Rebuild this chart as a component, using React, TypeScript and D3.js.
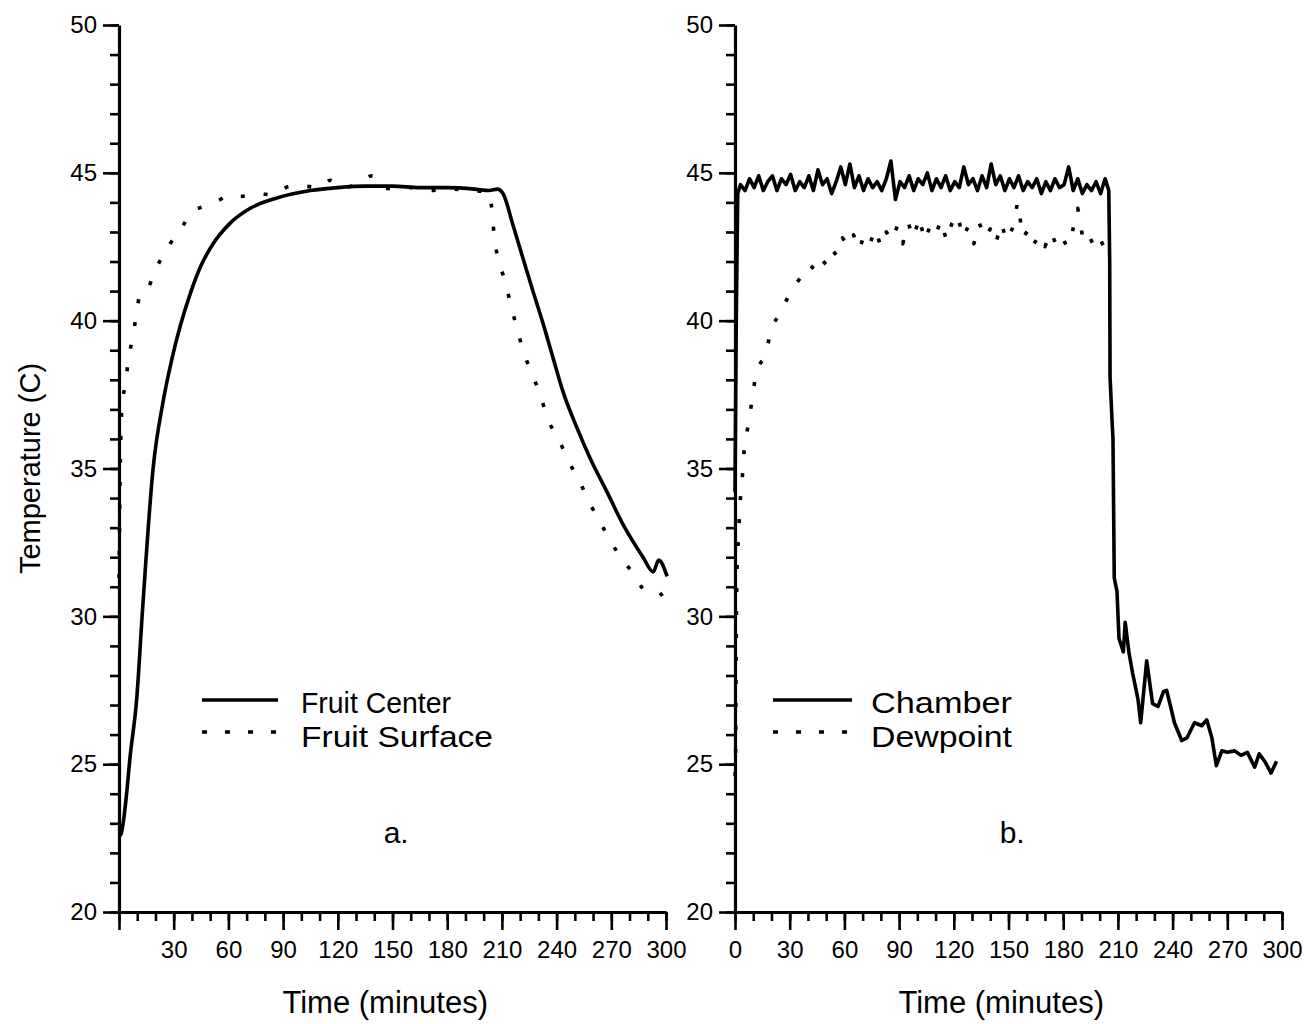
import React, { useRef, useEffect } from 'react';
import * as d3 from 'd3';

// panel a: fruit temperatures
const centerTime = [0, 0.8, 2, 4, 6, 9.7, 13, 18.7, 24, 29, 33.5, 39, 44.5, 51.6, 61, 72, 86.6, 105, 120, 135, 150, 165, 180, 195, 203, 207.5, 210.6, 216, 221.6, 227, 232.6, 238, 243.5, 251, 258, 267.7, 276.5, 287.4, 293, 296, 300.6];
const centerTemp = [22.6, 22.6, 22.9, 23.9, 25.2, 27.2, 30.3, 35.0, 37.2, 38.7, 39.8, 40.9, 41.8, 42.6, 43.3, 43.8, 44.15, 44.4, 44.5, 44.55, 44.55, 44.5, 44.5, 44.45, 44.4, 44.45, 44.3, 43.25, 42.1, 41.0, 39.9, 38.75, 37.6, 36.4, 35.4, 34.2, 33.1, 32.0, 31.5, 31.9, 31.35];

const surfaceTime = [0, 0.5, 1.2, 2, 3.4, 5, 7, 9.3, 11.5, 13.5, 16, 18, 20.7, 24, 28, 34.5, 40, 46, 54, 61, 66, 77, 84, 94, 101, 110, 116, 122, 130, 139, 145, 152, 160, 170, 182, 193, 202.5, 204.6, 205.7, 207.9, 211.7, 215, 218, 221.6, 226.5, 231, 235, 241, 247, 252.3, 258.4, 265.5, 273, 281.4, 289.6, 295, 299];
const surfaceTemp = [31.3, 34.2, 36.6, 37.3, 37.8, 38.6, 39.3, 40.1, 40.9, 41.0, 41.1, 41.4, 41.8, 42.2, 42.6, 43.15, 43.7, 43.85, 44.05, 44.25, 44.2, 44.3, 44.25, 44.55, 44.55, 44.5, 44.75, 44.5, 44.6, 44.9, 44.5, 44.45, 44.5, 44.4, 44.45, 44.4, 44.35, 43.7, 42.9, 42.1, 41.35, 40.5, 39.8, 39.0, 38.2, 37.5, 36.7, 36.0, 35.2, 34.6, 33.8, 33.0, 32.2, 31.5, 30.85, 30.85, 30.6];

// panel b: chamber air and dewpoint
const chamberTime = [0, 0.7, 1.5,
  3, 5.5, 8, 10.5, 13, 15.5, 18, 20.5, 23, 25.5, 28, 30.5, 33, 35.5, 38, 40.5, 43, 45.5, 48, 50.5, 53, 55.5, 58, 60.5,
  63, 65.5, 68, 70.5, 73, 75.5, 78, 80.5, 83, 85.5, 88, 90.5, 93, 95.5, 98, 100.5, 103, 105.5, 108, 110.5, 113, 115.5,
  118, 120.5, 123, 125.5, 128, 130.5, 133, 135.5, 138, 140.5, 143, 145.5, 148, 150.5, 153, 155.5, 158, 160.5, 163, 165.5,
  168, 170.5, 173, 175.5, 178, 180.5, 183, 185.5, 188, 190.5, 193, 195.5, 198, 200.5, 203,
  205, 205.5, 205.7, 206.8, 207.3, 208, 208.8, 209.5, 210.6, 213, 214, 216, 218, 221, 222.5, 225.8, 229, 232, 235, 236.7,
  239.5, 241, 245, 248, 252, 256, 258.7, 261.5, 264, 267, 270, 274, 277.5, 281, 285, 287.5, 290.5, 294, 297];
const chamberTemp = [34.2, 40.0, 44.3,
  44.6, 44.4, 44.8, 44.5, 44.9, 44.4, 44.7, 44.9, 44.4, 44.8, 44.6, 44.95, 44.4, 44.7, 44.5, 44.9, 44.4, 45.1, 44.6, 44.8, 44.3, 44.7, 45.2, 44.6,
  45.3, 44.5, 44.9, 44.4, 44.8, 44.5, 44.7, 44.4, 44.8, 45.4, 44.1, 44.7, 44.5, 44.9, 44.4, 44.8, 44.6, 45.0, 44.4, 44.8, 44.5, 44.9,
  44.4, 44.7, 44.5, 45.2, 44.6, 44.8, 44.4, 44.9, 44.5, 45.3, 44.6, 44.9, 44.4, 44.8, 44.5, 44.9, 44.4, 44.7, 44.5, 44.8,
  44.3, 44.7, 44.4, 44.8, 44.5, 44.6, 45.2, 44.4, 44.8, 44.3, 44.6, 44.4, 44.7, 44.3, 44.8,
  44.4, 42.0, 38.1, 36.6, 36.0, 31.3, 31.05, 30.85, 29.25, 28.8, 29.8, 28.8, 28.1, 27.2, 26.4, 28.5, 27.05, 26.95, 27.45, 27.5,
  26.8, 26.4, 25.8, 25.9, 26.4, 26.3, 26.5, 25.9, 24.95, 25.45, 25.4, 25.45, 25.3, 25.4, 24.9, 25.35, 25.1, 24.7, 25.1];

const dewTime = [0, 0.3, 0.6, 1, 1.6, 2.2, 2.7, 3.9, 5, 7.5, 9.9, 11.5, 14.3, 16, 18, 20.8, 24.7, 27.4, 30, 34, 38, 41,
  44, 47, 50, 53, 56, 59, 62, 65, 68, 71, 74, 77, 80, 83, 86, 89, 92, 95, 98, 101, 104, 107, 110, 113, 116, 119, 122,
  125, 128, 131, 134, 137, 140, 143, 146, 149, 152, 155, 158, 161, 164, 167, 170, 173, 176, 179, 182, 185, 188, 191,
  194, 197, 200, 203, 205];
const dewTemp = [24.6, 25.0, 28.5, 31.5, 32.3, 33.1, 33.8, 34.6, 35.6, 36.6, 37.5, 38.3, 38.6, 38.7, 39.2, 39.9, 40.2, 40.6, 40.9, 41.3, 41.6, 41.9,
  41.7, 42.1, 41.9, 42.4, 42.2, 42.8, 42.5, 42.9, 42.4, 42.9, 42.6, 43.1, 42.5, 43.0, 42.7, 43.2, 42.6, 43.3, 42.8, 43.5, 42.7, 43.2, 42.9, 43.4, 42.7, 43.3, 43.6,
  42.8, 43.2, 42.6, 43.3, 42.8, 43.1, 42.6, 43.3, 42.7, 43.1, 44.0, 42.8, 43.1, 42.6, 42.9, 42.5, 43.0, 42.6, 42.9, 42.5, 43.0, 43.8, 42.7,
  42.9, 42.5, 42.8, 42.4, 42.7];

const majorY = [20, 25, 30, 35, 40, 45, 50];
const majorX = [0, 30, 60, 90, 120, 150, 180, 210, 240, 270, 300];

const FONT = '"Liberation Sans", Arial, Helvetica, sans-serif';

const zip = (ts: number[], vs: number[]) => ts.map((t, i) => [t, vs[i]] as [number, number]);

const App = () => {
  const svgRef = useRef<SVGSVGElement>(null);

  useEffect(() => {
    const svg = d3.select(svgRef.current);
    svg.selectAll('*').remove();

    const y = d3.scaleLinear().domain([20, 50]).range([912, 25]);

    const panels = [
      {
        x: d3.scaleLinear().domain([0, 300]).range([119, 666]),
        showZero: false,
        smooth: true,
        series: [
          { data: zip(centerTime, centerTemp), dotted: false },
          { data: zip(surfaceTime, surfaceTemp), dotted: true },
        ],
        legend: { x0: 202, x1: 278, tx: 301, labels: ['Fruit Center', 'Fruit Surface'], size: 30, lens: [150, 192] },
        tag: 'a.',
      },
      {
        x: d3.scaleLinear().domain([0, 300]).range([735, 1282]),
        showZero: true,
        smooth: false,
        series: [
          { data: zip(dewTime, dewTemp), dotted: true },
          { data: zip(chamberTime, chamberTemp), dotted: false },
        ],
        legend: { x0: 773, x1: 852, tx: 871, labels: ['Chamber', 'Dewpoint'], size: 30, lens: [141, 141] },
        tag: 'b.',
      },
    ];

    panels.forEach(p => {
      const g = svg.append('g');
      const x0 = p.x(0);

      // minor ticks first, majors on top
      g.append('g')
        .attr('transform', `translate(${x0},0)`)
        .call(d3.axisLeft(y).tickValues(d3.range(20, 51, 1)).tickSize(9).tickFormat(() => ''))
        .call(a => a.select('.domain').remove());
      g.append('g')
        .attr('transform', `translate(0,${y(20)})`)
        .call(d3.axisBottom(p.x).tickValues(d3.range(0, 301, 10)).tickSize(9).tickFormat(() => ''))
        .call(a => a.select('.domain').remove());

      g.append('g')
        .attr('transform', `translate(${x0},0)`)
        .call(d3.axisLeft(y).tickValues(majorY).tickSize(16).tickSizeOuter(0).tickPadding(6));
      g.append('g')
        .attr('transform', `translate(0,${y(20)})`)
        .call(d3.axisBottom(p.x).tickValues(majorX).tickSize(18).tickSizeOuter(0).tickPadding(11)
          .tickFormat(d => (!p.showZero && d === 0 ? '' : String(d))));

      g.selectAll('.domain').attr('stroke', '#000').attr('stroke-width', 3.2);
      g.selectAll('.tick line').attr('stroke', '#000').attr('stroke-width', 2.6);
      g.selectAll('.tick text').attr('fill', '#000').attr('font-family', FONT).attr('font-size', 24);

      const line = d3.line<[number, number]>()
        .x(d => p.x(d[0]))
        .y(d => y(d[1]))
        .curve(p.smooth ? d3.curveMonotoneX : d3.curveLinear);
      p.series.forEach(s => {
        g.append('path')
          .attr('d', line(s.data))
          .attr('fill', 'none')
          .attr('stroke', '#000')
          .attr('stroke-width', 3.6)
          .attr('stroke-linejoin', 'round')
          .attr('stroke-dasharray', s.dotted ? '4 19' : null);
      });

      const lg = p.legend;
      g.append('line')
        .attr('x1', lg.x0).attr('x2', lg.x1).attr('y1', 700).attr('y2', 700)
        .attr('stroke', '#000').attr('stroke-width', 3.4);
      g.append('line')
        .attr('x1', lg.x0).attr('x2', lg.x1).attr('y1', 732).attr('y2', 732)
        .attr('stroke', '#000').attr('stroke-width', 3.4).attr('stroke-dasharray', '5 18');
      lg.labels.forEach((t, i) => {
        g.append('text')
          .attr('x', lg.tx).attr('y', 713 + i * 34)
          .attr('font-family', FONT).attr('font-size', lg.size)
          .attr('textLength', lg.lens[i])
          .attr('lengthAdjust', 'spacingAndGlyphs')
          .text(t);
      });

      g.append('text')
        .attr('x', p.x(152)).attr('y', 843)
        .attr('text-anchor', 'middle')
        .attr('font-family', FONT).attr('font-size', 30)
        .text(p.tag);

      g.append('text')
        .attr('x', p.x(146)).attr('y', 1013)
        .attr('text-anchor', 'middle')
        .attr('font-family', FONT).attr('font-size', 31)
        .text('Time (minutes)');
    });

    svg.append('text')
      .attr('transform', `translate(40,${y(35)}) rotate(-90)`)
      .attr('text-anchor', 'middle')
      .attr('font-family', FONT).attr('font-size', 29)
      .text('Temperature (C)');
  }, []);

  return (
    <svg
      ref={svgRef}
      width={1304}
      height={1024}
      style={{ position: 'absolute', left: 0, top: 0, background: '#fff' }}
    />
  );
};

export default App;
